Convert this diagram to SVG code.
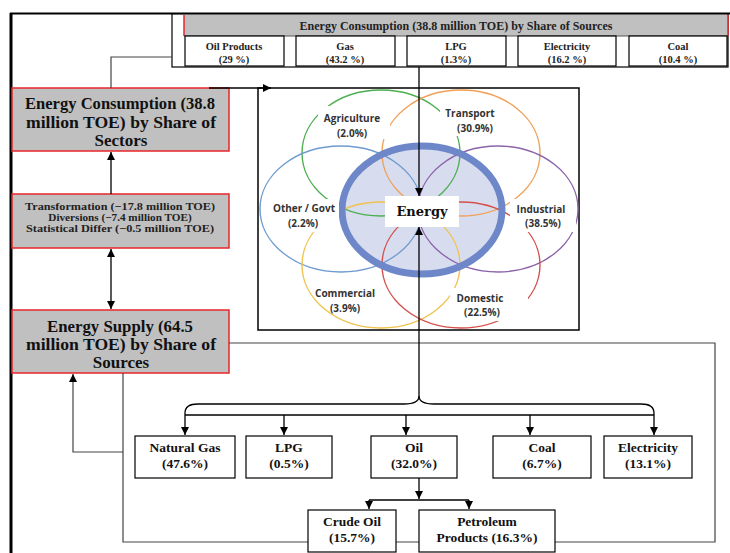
<svg xmlns="http://www.w3.org/2000/svg" width="730" height="553" viewBox="0 0 730 553">
<defs>
<marker id="ah" markerUnits="userSpaceOnUse" markerWidth="9" markerHeight="9" refX="8" refY="4" orient="auto-start-reverse"><path d="M0,0 L8,4 L0,8 z" fill="#000"/></marker>
<style>
.gbox{fill:#c0c0c0;stroke:#e8262a;stroke-width:1.5}
.box{fill:#fff;stroke:#000;stroke-width:1.2}
.big{font-family:"Liberation Serif",serif;font-weight:bold;font-size:17px;fill:#111;text-anchor:middle}
.mid{font-family:"Liberation Serif",serif;font-weight:bold;font-size:11.2px;fill:#222;text-anchor:middle}
.bx{font-family:"Liberation Serif",serif;font-weight:bold;font-size:13.5px;fill:#111;text-anchor:middle}
.cell{font-family:"Liberation Serif",serif;font-weight:bold;font-size:10.5px;fill:#222;text-anchor:middle}
.hdr{font-family:"Liberation Serif",serif;font-weight:bold;font-size:12px;fill:#222;text-anchor:middle}
.vl{font-family:"Open Sans","DejaVu Sans",sans-serif;font-weight:bold;font-size:10px;fill:#333;text-anchor:middle}
.ln{fill:none;stroke:#000;stroke-width:1.3}
.gl{fill:none;stroke:#444;stroke-width:1.2}
.el{fill:none;stroke-width:1.4}
</style>
</defs>
<rect width="730" height="553" fill="#fff"/>
<!-- frame -->
<line x1="10" y1="13.5" x2="730" y2="13.5" stroke="#000" stroke-width="2"/>
<line x1="11" y1="13" x2="11" y2="553" stroke="#000" stroke-width="3"/>

<!-- top table -->
<g id="table-sources">
<rect x="172" y="14" width="556" height="53" fill="#fff" stroke="#000" stroke-width="1.2"/>
<rect x="184" y="15" width="544" height="21" fill="#c0c0c0" stroke="none"/>
<line x1="184" y1="15" x2="184" y2="36" stroke="#e8262a" stroke-width="1.5"/>
<line x1="728" y1="15" x2="728" y2="36" stroke="#e8262a" stroke-width="1.5"/>
<line x1="184" y1="36" x2="728" y2="36" stroke="#555" stroke-width="1"/>
<text class="hdr" x="456" y="30">Energy Consumption (38.8 million TOE) by Share of Sources</text>
<rect class="box" x="185" y="36" width="99" height="30"/>
<rect class="box" x="296" y="36" width="99" height="30"/>
<rect class="box" x="407" y="36" width="99" height="30"/>
<rect class="box" x="518" y="36" width="98" height="30"/>
<rect class="box" x="629" y="36" width="98" height="30"/>
<text class="cell" x="234" y="50">Oil Products</text><text class="cell" x="234" y="63">(29 %)</text>
<text class="cell" x="345" y="50">Gas</text><text class="cell" x="345" y="63">(43.2 %)</text>
<text class="cell" x="456" y="50">LPG</text><text class="cell" x="456" y="63">(1.3%)</text>
<text class="cell" x="567" y="50">Electricity</text><text class="cell" x="567" y="63">(16.2 %)</text>
<text class="cell" x="678" y="50">Coal</text><text class="cell" x="678" y="63">(10.4 %)</text>
</g>

<!-- left boxes -->
<g id="consumption-sectors">
<rect class="gbox" x="12" y="88" width="217" height="63"/>
<text class="big" x="120" y="109" textLength="190" lengthAdjust="spacingAndGlyphs">Energy Consumption (38.8</text>
<text class="big" x="121" y="128" textLength="190" lengthAdjust="spacingAndGlyphs">million TOE) by Share of</text>
<text class="big" x="121" y="146">Sectors</text>
</g>
<g id="transformation">
<rect class="gbox" x="12" y="194" width="217" height="54"/>
<text class="mid" x="120" y="210" textLength="190" lengthAdjust="spacingAndGlyphs">Transformation (−17.8 million TOE)</text>
<text class="mid" x="120" y="221">Diversions (−7.4 million TOE)</text>
<text class="mid" x="120" y="232" textLength="188" lengthAdjust="spacingAndGlyphs">Statistical Differ (−0.5 million TOE)</text>
</g>
<g id="energy-supply">
<rect class="gbox" x="12" y="310" width="217" height="63"/>
<text class="big" x="120" y="332" textLength="146" lengthAdjust="spacingAndGlyphs">Energy Supply (64.5</text>
<text class="big" x="121" y="350" textLength="190" lengthAdjust="spacingAndGlyphs">million TOE) by Share of</text>
<text class="big" x="121" y="368">Sources</text>
</g>

<!-- venn picture -->
<g id="sector-venn">
<rect x="258" y="88" width="321" height="242" fill="#fff" stroke="#000" stroke-width="1.5"/>
<ellipse cx="422" cy="210" rx="80" ry="64" fill="#d8dcef"/>
<ellipse class="el" cx="381" cy="153" rx="79" ry="63" stroke="#4caf50"/>
<ellipse class="el" cx="461" cy="153" rx="79" ry="63" stroke="#f0a058"/>
<ellipse class="el" cx="341" cy="209" rx="81" ry="63" stroke="#6e9bd0"/>
<ellipse class="el" cx="498" cy="209" rx="80" ry="63" stroke="#8c63ab"/>
<ellipse class="el" cx="381" cy="265" rx="79" ry="63" stroke="#f0c24e"/>
<ellipse class="el" cx="461" cy="265" rx="79" ry="63" stroke="#d4504c"/>
<ellipse cx="422" cy="210" rx="80" ry="64" fill="none" stroke="#6d87c9" stroke-width="7"/>
<rect x="318" y="106" width="72" height="33" fill="#fff"/>
<rect x="440" y="103" width="66" height="33" fill="#fff"/>
<rect x="267" y="199" width="72" height="33" fill="#fff"/>
<rect x="510" y="199" width="66" height="33" fill="#fff"/>
<rect x="450" y="288" width="78" height="33" fill="#fff"/>
<rect x="385" y="196" width="74" height="31" fill="#fff"/>
<text class="vl" x="352" y="122">Agriculture</text><text class="vl" x="352" y="137">(2.0%)</text>
<text class="vl" x="470" y="117">Transport</text><text class="vl" x="475" y="132">(30.9%)</text>
<text class="vl" x="304" y="212">Other / Govt</text><text class="vl" x="303" y="227">(2.2%)</text>
<text class="vl" x="541" y="213">Industrial</text><text class="vl" x="543" y="227">(38.5%)</text>
<text class="vl" x="345" y="297">Commercial</text><text class="vl" x="345" y="312">(3.9%)</text>
<text class="vl" x="480" y="302">Domestic</text><text class="vl" x="482" y="316">(22.5%)</text>
<text x="422" y="216" font-family="'DejaVu Serif',serif" font-weight="bold" font-size="13" fill="#111" text-anchor="middle">Energy</text>
</g>

<!-- bottom boxes -->
<g id="natural-gas"><rect class="box" x="135" y="436" width="100" height="42"/><text class="bx" x="185" y="452">Natural Gas</text><text class="bx" x="185" y="468">(47.6%)</text></g>
<g id="lpg"><rect class="box" x="246" y="436" width="86" height="42"/><text class="bx" x="289" y="452">LPG</text><text class="bx" x="289" y="468">(0.5%)</text></g>
<g id="oil"><rect class="box" x="371" y="436" width="86" height="42"/><text class="bx" x="414" y="452">Oil</text><text class="bx" x="414" y="468">(32.0%)</text></g>
<g id="coal"><rect class="box" x="493" y="436" width="98" height="42"/><text class="bx" x="542" y="452">Coal</text><text class="bx" x="542" y="468">(6.7%)</text></g>
<g id="electricity"><rect class="box" x="604" y="436" width="88" height="42"/><text class="bx" x="648" y="452">Electricity</text><text class="bx" x="648" y="468">(13.1%)</text></g>

<!-- connectors -->
<g id="connectors">
<polyline class="gl" points="172,57 111,57 111,88"/>
<polyline class="gl" points="229,343 715,343 715,542 123,542 123,373"/>
<polyline class="gl" points="123,452 73,452 73,374" marker-end="url(#ah)"/>
<line class="ln" x1="209" y1="88" x2="271" y2="88" marker-end="url(#ah)"/>
<line class="ln" x1="111" y1="194" x2="111" y2="152" marker-end="url(#ah)"/>
<line class="ln" x1="111" y1="249" x2="111" y2="309" marker-start="url(#ah)" marker-end="url(#ah)"/>
<line class="ln" x1="419" y1="67" x2="419" y2="196" marker-end="url(#ah)"/>
<line class="ln" x1="419" y1="396" x2="419" y2="227" marker-end="url(#ah)"/>
<path class="ln" d="M419,396 C419,402 414,404 404,404 L198,404 C189,404 185,407 185,413 L185,435" marker-end="url(#ah)"/>
<path class="ln" d="M419,396 C419,402 424,404 434,404 L641,404 C650,404 654,407 654,413 L654,435" marker-end="url(#ah)"/>
<line class="ln" x1="185" y1="415" x2="654" y2="415"/>
<line class="ln" x1="284" y1="415" x2="284" y2="435" marker-end="url(#ah)"/>
<line class="ln" x1="406" y1="415" x2="406" y2="435" marker-end="url(#ah)"/>
<line class="ln" x1="530" y1="415" x2="530" y2="435" marker-end="url(#ah)"/>
<line class="ln" x1="419" y1="478" x2="419" y2="499" marker-end="url(#ah)"/>
<line class="ln" x1="369" y1="500" x2="469" y2="500"/>
<line class="ln" x1="369" y1="500" x2="369" y2="509" marker-end="url(#ah)"/>
<line class="ln" x1="469" y1="500" x2="469" y2="509" marker-end="url(#ah)"/>
</g>

<g id="crude-oil"><rect class="box" x="308" y="510" width="88" height="42"/><text class="bx" x="352" y="526">Crude Oil</text><text class="bx" x="352" y="542">(15.7%)</text></g>
<g id="petroleum-products"><rect class="box" x="419" y="510" width="136" height="42"/><text class="bx" x="487" y="526">Petroleum</text><text class="bx" x="487" y="542">Products (16.3%)</text></g>
</svg>
